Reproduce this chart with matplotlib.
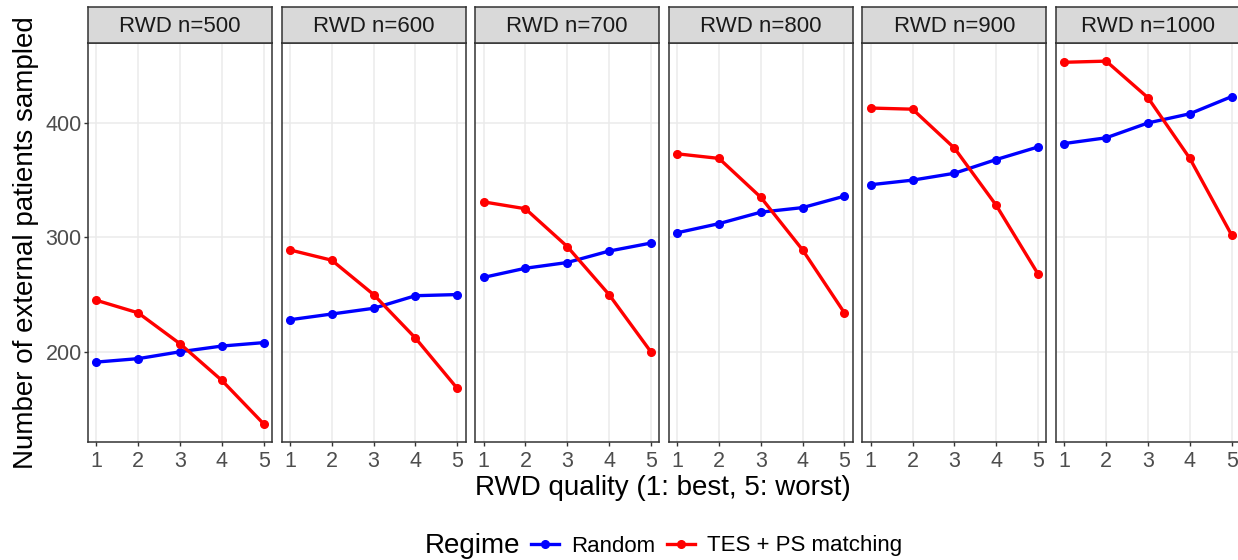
import numpy as np
import matplotlib
matplotlib.use('Agg')
import matplotlib.pyplot as plt
from matplotlib.lines import Line2D

plt.rcParams['font.family'] = ['Liberation Sans', 'DejaVu Sans']

# data
quality = [1, 2, 3, 4, 5]
sizes = [500, 600, 700, 800, 900, 1000]
random_n = [
    [191, 194, 200, 205, 208],
    [228, 233, 238, 249, 250],
    [265, 273, 278, 288, 295],
    [304, 312, 322, 326, 336],
    [346, 350, 356, 368, 379],
    [382, 387, 400, 408, 423],
]
tes_n = [
    [245, 234, 207, 175, 137],
    [289, 280, 250, 212, 168],
    [331, 325, 292, 250, 200],
    [373, 369, 335, 289, 234],
    [413, 412, 378, 328, 268],
    [453, 454, 422, 369, 302],
]
regimes = ['Random', 'TES + PS matching']
colors = ['#0000FF', '#FF0000']

W, H = 1238, 560
fig = plt.figure(figsize=(W / 100, H / 100), dpi=100)

allv = np.array(random_n + tes_n)
rng = allv.max() - allv.min()
ylim = (allv.min() - 0.05 * rng, allv.max() + 0.05 * rng)

left0, step, pw = 88, 193.6, 184
top, bottom, strip_top = 43, 442, 7
edge = '#333333'

for i, n in enumerate(sizes):
    x0 = left0 + i * step
    ax = fig.add_axes([x0 / W, 1 - bottom / H, pw / W, (bottom - top) / H])
    ax.plot(quality, random_n[i], color=colors[0], lw=2.4, marker='o', ms=5.5, zorder=3)
    ax.plot(quality, tes_n[i], color=colors[1], lw=2.4, marker='o', ms=5.5, zorder=3)
    ax.set_xlim(0.8, 5.2)
    ax.set_ylim(*ylim)
    ax.set_xticks(quality)
    ax.set_yticks([200, 300, 400])
    ax.grid(True, color='#EBEBEB', lw=1.1)
    ax.set_axisbelow(True)
    for s in ax.spines.values():
        s.set_color(edge)
        s.set_linewidth(1.1)
    ax.tick_params(axis='both', colors=edge, length=3, width=1.0,
                   labelsize=15.5, labelcolor='#4D4D4D')
    ax.tick_params(axis='x', pad=3.5)
    ax.tick_params(axis='y', pad=1.5)
    if i > 0:
        ax.tick_params(axis='y', left=False, labelleft=False)
    if i == 0:
        ax.set_ylabel('Number of external patients sampled', fontsize=20, labelpad=5)

    sax = fig.add_axes([x0 / W, 1 - top / H, pw / W, (top - strip_top) / H])
    sax.set_facecolor('#D9D9D9')
    sax.set_xticks([])
    sax.set_yticks([])
    for s in sax.spines.values():
        s.set_color(edge)
        s.set_linewidth(1.1)
    sax.text(0.5, 0.47, 'RWD n=%d' % n, ha='center', va='center', fontsize=16,
             color='#1A1A1A', transform=sax.transAxes)

fig.text(663 / W, 1 - 488 / H, 'RWD quality (1: best, 5: worst)', ha='center',
         va='center', fontsize=20)

# legend
fig.text(425 / W, 1 - 546 / H, 'Regime', ha='left', va='center', fontsize=20)
handles = [Line2D([], [], color=c, lw=2.4, marker='o', ms=5.5) for c in colors]
fig.legend(handles, regimes, loc='center left', bbox_to_anchor=(531 / W, 1 - 546 / H),
           ncol=2, frameon=False, fontsize=16, handlelength=1.25, handletextpad=0.55,
           columnspacing=0.55, borderpad=0, borderaxespad=0)

fig.savefig('out.png', dpi=100)
